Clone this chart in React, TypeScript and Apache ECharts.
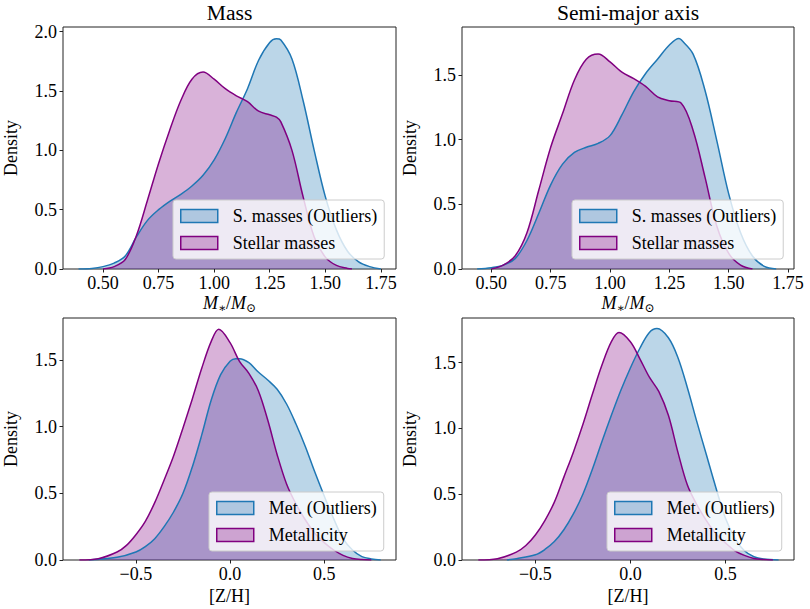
import React, { useEffect, useRef } from "react";
import * as echarts from "echarts";

// ---- Data ----
const massOutX = [0.39, 0.45, 0.5, 0.55, 0.6, 0.65, 0.7, 0.75, 0.8, 0.85, 0.9, 0.95, 1.0, 1.05, 1.1, 1.15, 1.2, 1.25, 1.28, 1.3, 1.35, 1.4, 1.45, 1.5, 1.55, 1.6, 1.65, 1.7, 1.75];
const massOutY = [0, 0.005, 0.02, 0.05, 0.11, 0.27, 0.41, 0.5, 0.57, 0.63, 0.7, 0.79, 0.92, 1.1, 1.32, 1.52, 1.76, 1.91, 1.94, 1.93, 1.77, 1.42, 1.0, 0.61, 0.33, 0.15, 0.06, 0.02, 0];
const massX = [0.5, 0.55, 0.6, 0.65, 0.7, 0.75, 0.8, 0.85, 0.9, 0.95, 1.0, 1.05, 1.1, 1.15, 1.2, 1.25, 1.28, 1.3, 1.35, 1.4, 1.45, 1.5, 1.55, 1.6, 1.62];
const massY = [0, 0.02, 0.08, 0.28, 0.58, 0.89, 1.17, 1.42, 1.6, 1.66, 1.6, 1.52, 1.46, 1.41, 1.33, 1.3, 1.28, 1.24, 1.0, 0.61, 0.27, 0.1, 0.03, 0.005, 0];

const smaOutX = [0.44, 0.5, 0.55, 0.6, 0.65, 0.7, 0.75, 0.8, 0.85, 0.9, 0.95, 1.0, 1.05, 1.1, 1.15, 1.2, 1.25, 1.29, 1.3, 1.35, 1.4, 1.45, 1.5, 1.55, 1.6, 1.65, 1.7];
const smaOutY = [0, 0.01, 0.03, 0.08, 0.22, 0.43, 0.65, 0.81, 0.9, 0.94, 0.97, 1.03, 1.19, 1.37, 1.51, 1.62, 1.73, 1.78, 1.77, 1.66, 1.38, 0.99, 0.58, 0.28, 0.1, 0.02, 0];
const smaX = [0.5, 0.55, 0.6, 0.65, 0.7, 0.75, 0.8, 0.85, 0.9, 0.95, 1.0, 1.05, 1.1, 1.15, 1.2, 1.25, 1.3, 1.35, 1.4, 1.45, 1.5, 1.55, 1.6];
const smaY = [0, 0.03, 0.1, 0.28, 0.61, 0.94, 1.2, 1.46, 1.62, 1.66, 1.6, 1.52, 1.47, 1.41, 1.33, 1.3, 1.28, 1.07, 0.71, 0.33, 0.12, 0.03, 0];

const metOutX = [-0.75, -0.6, -0.5, -0.45, -0.4, -0.35, -0.3, -0.25, -0.2, -0.15, -0.1, -0.05, 0.0, 0.03, 0.05, 0.1, 0.15, 0.2, 0.25, 0.3, 0.35, 0.4, 0.45, 0.5, 0.55, 0.6, 0.65, 0.7, 0.75, 0.8];
const metOutY = [0, 0.02, 0.06, 0.1, 0.16, 0.25, 0.36, 0.5, 0.7, 0.94, 1.2, 1.39, 1.49, 1.51, 1.51, 1.48, 1.41, 1.35, 1.28, 1.17, 1.02, 0.85, 0.66, 0.48, 0.31, 0.16, 0.075, 0.025, 0.008, 0];
const metX = [-0.8, -0.7, -0.6, -0.55, -0.5, -0.45, -0.4, -0.35, -0.3, -0.25, -0.2, -0.15, -0.1, -0.06, 0.0, 0.05, 0.1, 0.15, 0.2, 0.25, 0.3, 0.35, 0.4, 0.45, 0.5, 0.55, 0.6, 0.65, 0.7, 0.75];
const metY = [0, 0.01, 0.06, 0.11, 0.19, 0.29, 0.43, 0.6, 0.78, 0.99, 1.21, 1.44, 1.64, 1.73, 1.63, 1.49, 1.4, 1.27, 1.05, 0.79, 0.57, 0.42, 0.3, 0.2, 0.13, 0.075, 0.035, 0.012, 0.003, 0];

const met2OutX = [-0.65, -0.6, -0.5, -0.45, -0.4, -0.35, -0.3, -0.25, -0.2, -0.15, -0.1, -0.05, 0.0, 0.05, 0.1, 0.14, 0.2, 0.25, 0.3, 0.35, 0.4, 0.45, 0.5, 0.55, 0.6, 0.65, 0.7, 0.78];
const met2OutY = [0, 0.01, 0.04, 0.08, 0.14, 0.23, 0.35, 0.5, 0.69, 0.9, 1.1, 1.29, 1.46, 1.61, 1.73, 1.76, 1.69, 1.54, 1.31, 1.05, 0.8, 0.55, 0.32, 0.165, 0.07, 0.025, 0.008, 0];
const met2X = [-0.8, -0.7, -0.6, -0.55, -0.5, -0.45, -0.4, -0.35, -0.3, -0.25, -0.2, -0.15, -0.1, -0.06, 0.0, 0.05, 0.1, 0.15, 0.2, 0.25, 0.3, 0.35, 0.4, 0.45, 0.5, 0.55, 0.6, 0.65, 0.7, 0.75];
const met2Y = [0, 0.01, 0.06, 0.11, 0.19, 0.3, 0.44, 0.63, 0.82, 1.03, 1.26, 1.48, 1.66, 1.73, 1.66, 1.53, 1.39, 1.28, 1.1, 0.82, 0.57, 0.42, 0.3, 0.2, 0.13, 0.07, 0.035, 0.012, 0.003, 0];

const titles = ["Mass", "Semi-major axis"];
const legendTop = ["S. masses (Outliers)", "Stellar masses"];
const legendBottom = ["Met. (Outliers)", "Metallicity"];
const massTicks = [0.5, 0.75, 1.0, 1.25, 1.5, 1.75];
const metTicks = [-0.5, 0, 0.5];
const yTicks1 = [0, 0.5, 1.0, 1.5, 2.0];
const yTicks = [0, 0.5, 1.0, 1.5];

const FONT = "'Liberation Serif', 'Times New Roman', 'DejaVu Serif', serif";
const BLUE = "#1f77b4";
const BLUE_FILL = "rgba(31,119,180,0.3)";
const PURPLE = "#800080";
const PURPLE_FILL = "rgba(128,0,128,0.3)";

const zip = (xs: number[], ys: number[]) => xs.map((x, i) => [x, ys[i]]);

const grids = [
  { left: 63, top: 27, width: 333, height: 242 },
  { left: 462, top: 27, width: 332, height: 242 },
  { left: 63, top: 318, width: 333, height: 242 },
  { left: 462, top: 318, width: 332, height: 242 },
];

export default function App() {
  const ref = useRef<HTMLDivElement>(null);
  useEffect(() => {
    if (!ref.current) return;
    const chart = echarts.init(ref.current, undefined, { renderer: "svg" });

    const labelStyle = { fontFamily: FONT, fontSize: 18, color: "#000" };
    const fmt2 = (v: number) => v.toFixed(2);
    const fmt1 = (v: number) => (v < 0 ? "\u2212" + Math.abs(v).toFixed(1) : v.toFixed(1));

    const mName = "{i|M}{s|\u2217}{n|/}{i|M}{s|\u2299}";
    const mRich = {
      i: { fontFamily: FONT, fontStyle: "italic", fontSize: 18, lineHeight: 22, verticalAlign: "middle" },
      n: { fontFamily: FONT, fontSize: 18, lineHeight: 22, verticalAlign: "middle" },
      s: { fontFamily: FONT, fontSize: 12, lineHeight: 14, verticalAlign: "bottom" },
    };

    const xRanges = [
      [0.32, 1.818],
      [0.3764, 1.775],
      [-0.887, 0.881],
      [-0.886, 0.861],
    ];
    const yMax = [2.04, 1.869, 1.815, 1.84];

    const xAxis = [0, 1, 2, 3].map((i) => {
      const top = i < 2;
      const ticks = top ? massTicks : metTicks;
      return {
        type: "value",
        gridIndex: i,
        min: xRanges[i][0],
        max: xRanges[i][1],
        axisLine: { show: false, onZero: false },
        axisTick: { show: true, length: 3.5, lineStyle: { color: "#222", width: 1 }, customValues: ticks },
        axisLabel: { ...labelStyle, margin: 5, customValues: ticks, formatter: top ? fmt2 : fmt1 },
        splitLine: { show: false },
        name: top ? mName : "[Z/H]",
        nameLocation: "middle",
        nameGap: top ? 23 : 27,
        nameTextStyle: top ? { ...labelStyle, rich: mRich } : { ...labelStyle },
      };
    });

    const yAxis = [0, 1, 2, 3].map((i) => {
      const ticks = i === 0 ? yTicks1 : yTicks;
      return {
        type: "value",
        gridIndex: i,
        min: 0,
        max: yMax[i],
        axisLine: { show: false, onZero: false },
        axisTick: { show: true, length: 3.5, lineStyle: { color: "#222", width: 1 }, customValues: ticks },
        axisLabel: { ...labelStyle, margin: 6, customValues: ticks, formatter: fmt1 },
        splitLine: { show: false },
        name: "Density",
        nameLocation: "middle",
        nameGap: 43,
        nameTextStyle: { ...labelStyle },
      };
    });

    const mk = (name: string, data: number[][], idx: number, color: string, fill: string) => ({
      type: "line",
      name,
      xAxisIndex: idx,
      yAxisIndex: idx,
      data,
      smooth: 0.35,
      showSymbol: false,
      symbol: "none",
      lineStyle: { color, width: 1.5 },
      itemStyle: { color },
      areaStyle: { color: fill, opacity: 1 },
      silent: true,
    });

    const series = [
      mk(legendTop[0], zip(massOutX, massOutY), 0, BLUE, BLUE_FILL),
      mk(legendTop[1], zip(massX, massY), 0, PURPLE, PURPLE_FILL),
      mk(legendTop[0], zip(smaOutX, smaOutY), 1, BLUE, BLUE_FILL),
      mk(legendTop[1], zip(smaX, smaY), 1, PURPLE, PURPLE_FILL),
      mk(legendBottom[0], zip(metOutX, metOutY), 2, BLUE, BLUE_FILL),
      mk(legendBottom[1], zip(metX, metY), 2, PURPLE, PURPLE_FILL),
      mk(legendBottom[0], zip(met2OutX, met2OutY), 3, BLUE, BLUE_FILL),
      mk(legendBottom[1], zip(met2X, met2Y), 3, PURPLE, PURPLE_FILL),
    ];

    const legendPos = [
      { left: 173, top: 200 },
      { left: 572, top: 200 },
      { left: 209, top: 492 },
      { left: 607, top: 492 },
    ];

    const legend = legendPos.map((p, i) => {
      const names = i < 2 ? legendTop : legendBottom;
      return {
        ...p,
        orient: "vertical",
        selectedMode: false,
        backgroundColor: "rgba(255,255,255,0.8)",
        borderColor: "#cccccc",
        borderWidth: 1,
        borderRadius: 3,
        padding: [7, 7, 7, 7],
        itemGap: 9,
        itemWidth: 37,
        itemHeight: 13,
        icon: "rect",
        textStyle: { fontFamily: FONT, fontSize: 18, color: "#000", lineHeight: 18, padding: [0, 0, 0, 10] },
        data: [
          { name: names[0], icon: "rect", itemStyle: { color: BLUE_FILL, borderColor: BLUE, borderWidth: 1.5 } },
          { name: names[1], icon: "rect", itemStyle: { color: PURPLE_FILL, borderColor: PURPLE, borderWidth: 1.5 } },
        ],
      };
    });

    chart.setOption({
      animation: false,
      backgroundColor: "#ffffff",
      title: [
        { text: titles[0], left: 229.5, textAlign: "center", top: 2, padding: 0, textStyle: { fontFamily: FONT, fontSize: 21.6, fontWeight: "normal", color: "#000" } },
        { text: titles[1], left: 628, textAlign: "center", top: 2, padding: 0, textStyle: { fontFamily: FONT, fontSize: 21.6, fontWeight: "normal", color: "#000" } },
      ],
      grid: grids.map((g) => ({ ...g, show: true, borderColor: "#222", borderWidth: 1, backgroundColor: "transparent", containLabel: false })),
      xAxis,
      yAxis,
      legend,
      series,
    });

    return () => chart.dispose();
  }, []);

  return <div ref={ref} style={{ position: "fixed", left: 0, top: 0, width: 810, height: 609 }} />;
}
